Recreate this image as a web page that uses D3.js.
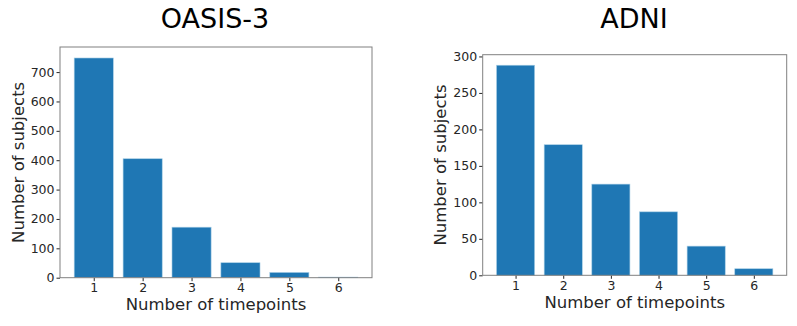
<!DOCTYPE html>
<html>
<head>
<meta charset="utf-8">
<script src="https://cdn.jsdelivr.net/npm/d3@7"></script>
<style>
  body { margin: 0; background: #fff; }
  text { font-family: "DejaVu Sans", sans-serif; fill: #262626; }
</style>
</head>
<body>
<svg id="root" width="797" height="326"></svg>
<script>
const timepoints = [1, 2, 3, 4, 5, 6];
const oasisCounts = [748, 405, 172, 51, 18, 2];
const adniCounts = [288, 179, 125, 87, 40, 9];
const oasisTicks = [0, 100, 200, 300, 400, 500, 600, 700];
const adniTicks = [0, 50, 100, 150, 200, 250, 300];

const BAR_FILL = '#1f77b4';
const SPINE = '#808080';

const svg = d3.select('#root');

function panel(title, counts, yTicks, box, titleX, ylabelX) {
  const g = svg.append('g');
  const x = d3.scaleLinear().domain([0.31, 6.69]).range([box.left, box.right]);
  const ymax = d3.max(counts) * 1.05;
  const y = d3.scaleLinear().domain([0, ymax]).range([box.bottom, box.top]);

  g.selectAll('rect.bar')
    .data(counts)
    .enter()
    .append('rect')
    .attr('class', 'bar')
    .attr('x', (d, i) => x(timepoints[i] - 0.4))
    .attr('width', (d, i) => x(timepoints[i] + 0.4) - x(timepoints[i] - 0.4))
    .attr('y', d => y(d))
    .attr('height', d => y(0) - y(d))
    .attr('fill', BAR_FILL)
    .attr('stroke', '#a9cfe6')
    .attr('stroke-width', 0.6);

  const xAxis = g.append('g')
    .attr('transform', 'translate(0,' + box.bottom + ')')
    .call(d3.axisBottom(x).tickValues(timepoints).tickFormat(d3.format('d')).tickSize(3.5).tickPadding(2));
  const yAxis = g.append('g')
    .attr('transform', 'translate(' + box.left + ',0)')
    .call(d3.axisLeft(y).tickValues(yTicks).tickSize(3.5).tickPadding(2));

  [xAxis, yAxis].forEach(a => {
    a.select('.domain').remove();
    a.selectAll('line').attr('stroke', '#262626');
    a.selectAll('text').attr('font-size', '12.5px').attr('font-family', '"DejaVu Sans", sans-serif').attr('fill', '#262626');
  });

  g.append('rect')
    .attr('x', box.left)
    .attr('y', box.top)
    .attr('width', box.right - box.left)
    .attr('height', box.bottom - box.top)
    .attr('fill', 'none')
    .attr('stroke', SPINE)
    .attr('stroke-width', 1);

  g.append('text')
    .attr('x', titleX)
    .attr('y', 28)
    .attr('text-anchor', 'middle')
    .attr('font-size', '27px')
    .attr('font-family', '"Liberation Sans", Arial, sans-serif')
    .style('fill', '#000')
    .text(title);

  g.append('text')
    .attr('x', (box.left + box.right) / 2)
    .attr('y', box.bottom + 32.5)
    .attr('text-anchor', 'middle')
    .attr('font-size', '16.5px')
    .text('Number of timepoints');

  g.append('text')
    .attr('transform', 'translate(' + ylabelX + ',' + ((box.top + box.bottom) / 2) + ') rotate(-90)')
    .attr('text-anchor', 'middle')
    .attr('font-size', '16.5px')
    .text('Number of subjects');
}

panel('OASIS-3', oasisCounts, oasisTicks, {left: 60, right: 372, top: 47, bottom: 277.7}, 215, 24);
panel('ADNI', adniCounts, adniTicks, {left: 482.7, right: 786.7, top: 54.7, bottom: 275.3}, 634, 446);
</script>
</body>
</html>
